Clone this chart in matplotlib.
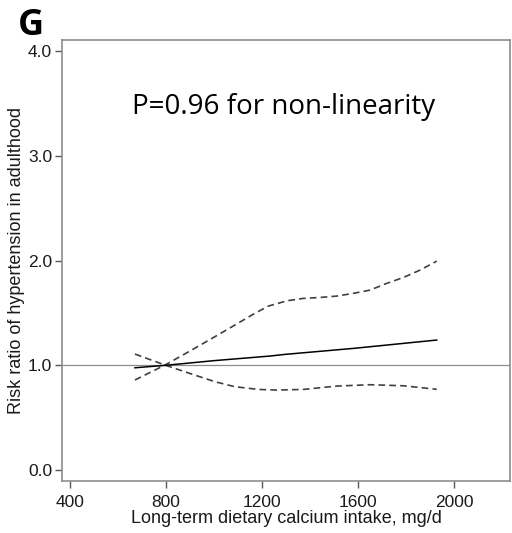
import matplotlib
matplotlib.use("Agg")
import matplotlib.pyplot as plt
import numpy as np

# Data
x_est = [671, 796, 1000, 1233, 1296, 1580, 1928]
rr_est = [0.977, 1.0, 1.045, 1.089, 1.105, 1.162, 1.242]

x_upper = [671, 796, 907, 1004, 1087, 1157, 1226, 1289, 1303, 1372, 1442, 1511,
           1580, 1650, 1719, 1789, 1858, 1928]
rr_upper = [0.86, 1.003, 1.146, 1.274, 1.385, 1.48, 1.566, 1.607, 1.617, 1.64, 1.649, 1.662,
            1.688, 1.719, 1.783, 1.84, 1.91, 1.996]

x_lower = [671, 796, 907, 1004, 1087, 1185, 1260, 1372, 1511, 1650, 1789, 1928]
rr_lower = [1.108, 1.003, 0.917, 0.844, 0.796, 0.77, 0.764, 0.77, 0.802, 0.815, 0.805, 0.771]

x_ticks = [400, 800, 1200, 1600, 2000]
y_ticks = [0.0, 1.0, 2.0, 3.0, 4.0]
y_ticklabels = ["0.0", "1.0", "2.0", "3.0", "4.0"]

plt.rcParams['font.family'] = ['Liberation Sans', 'DejaVu Sans']

fig = plt.figure(figsize=(5.12, 5.33), dpi=100)
ax = fig.add_axes([0.121, 0.0976, 0.875, 0.8274])

ax.axhline(1.0, color='#8c8c8c', lw=0.9, zorder=1)
ax.plot(x_upper, rr_upper, color='#404040', lw=1.2, ls=(0, (4, 2.5)), zorder=2)
ax.plot(x_lower, rr_lower, color='#404040', lw=1.2, ls=(0, (4, 2.5)), zorder=2)
ax.plot(x_est, rr_est, color='black', lw=1.1, zorder=3)

ax.set_xlim(367, 2233)
ax.set_ylim(-0.105, 4.11)
ax.set_xticks(x_ticks)
ax.set_yticks(y_ticks)
ax.set_yticklabels(y_ticklabels)

for s in ax.spines.values():
    s.set_color('#8c8c8c')
    s.set_linewidth(1.2)

ax.tick_params(axis='both', direction='out', length=5, width=1, color='#555555',
               labelsize=12.5, labelcolor='#1a1a1a', pad=2)
ax.tick_params(axis='x', pad=5)

ax.set_xlabel("Long-term dietary calcium intake, mg/d", fontsize=13, color='#1a1a1a', labelpad=0)
ax.set_ylabel("Risk ratio of hypertension in adulthood", fontsize=13, color='#1a1a1a', labelpad=2)

ax.text(1290, 3.47, "P=0.96 for non-linearity", fontsize=20, family=['Open Sans', 'DejaVu Sans'],
        ha='center', va='center', color='black')

fig.text(0.035, 0.985, "G", fontsize=26, fontweight='bold', family=['Open Sans', 'DejaVu Sans'],
         ha='left', va='top', color='black')

fig.savefig("out.png", dpi=100)
